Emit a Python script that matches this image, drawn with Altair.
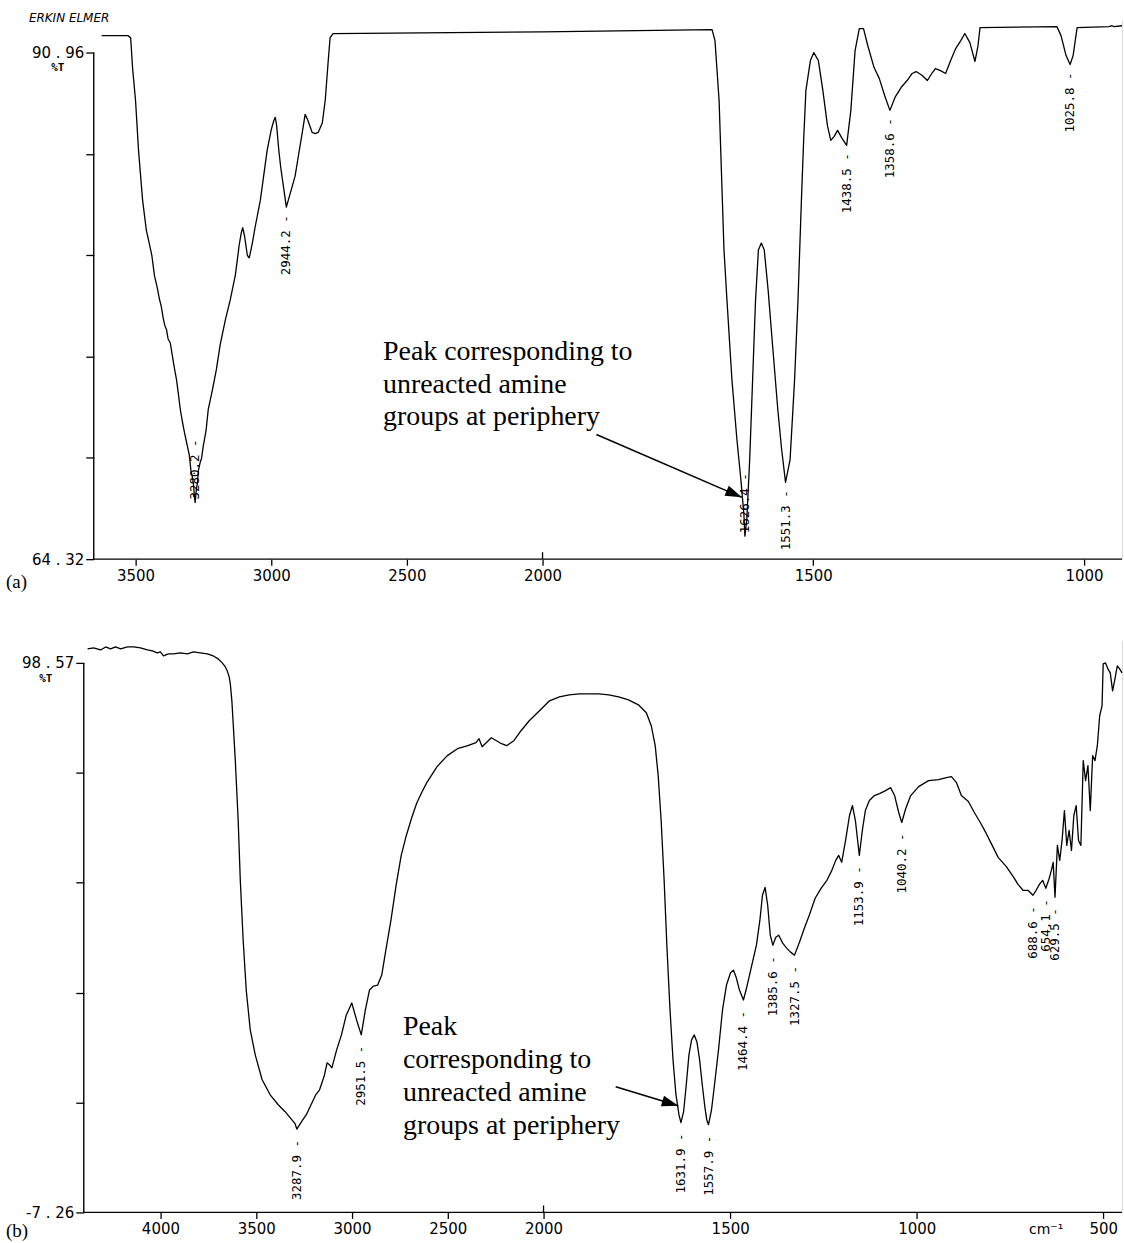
import math
import altair as alt
import pandas as pd

# ---------------- spectrum (a) : wavenumber (cm-1) and %T ----------------
wavenumber_a = [
    3625, 3528, 3518, 3511, 3500, 3489, 3474, 3460, 3452, 3440,
    3430, 3420, 3412, 3405, 3398, 3392, 3386, 3380, 3372, 3364,
    3356, 3349, 3342, 3335, 3328, 3320, 3314, 3308, 3302, 3296,
    3290, 3286, 3283, 3280.2, 3276, 3272, 3268, 3262, 3257, 3250,
    3246, 3240, 3232, 3217, 3202, 3188, 3169, 3151, 3132, 3118,
    3110, 3105, 3098, 3088, 3081, 3070, 3059, 3040, 3015, 3000,
    2990, 2985, 2980, 2972, 2965, 2944.2, 2912, 2897, 2886, 2875,
    2865, 2849, 2838, 2827, 2812, 2801, 2790, 2783, 2772, 2000,
    1687, 1681.6, 1674, 1665, 1659.5, 1650.3, 1641.1, 1633.8, 1628.2, 1626.4,
    1622.8, 1617.5, 1612.1, 1606.7, 1601.4, 1596.0, 1590.6, 1583.5, 1574.6, 1565.6,
    1558.5, 1551.3, 1542.9, 1534.6, 1528.3, 1522.0, 1517.9, 1513.7, 1505.4, 1499.1,
    1490.7, 1482.4, 1474.0, 1467.8, 1461.5, 1455.2, 1446.9, 1438.5, 1430.7, 1422.9,
    1415.1, 1407.3, 1399.5, 1387.8, 1378.1, 1368.3, 1358.6, 1349.2, 1338.0, 1326.8,
    1317.5, 1310.0, 1298.8, 1289.4, 1280.1, 1274.5, 1265.1, 1255.8, 1246.4, 1237.1,
    1227.7, 1220.2, 1210.9, 1201.5, 1195.9, 1192.2, 1050.1, 1042.6, 1033.3, 1025.8,
    1020.3, 1012.9, 954.0, 948.5, 944.8, 930.0,
]
transmittance_a = [
    91.85, 91.85, 91.74, 90.17, 88.44, 85.82, 83.20, 81.60, 81.10, 80.30,
    79.20, 78.60, 78.00, 77.60, 77.00, 76.60, 76.40, 75.90, 75.70, 75.00,
    74.30, 73.76, 73.00, 72.19, 71.60, 71.00, 70.60, 70.20, 69.80, 69.00,
    68.60, 68.20, 67.60, 67.30, 68.00, 68.30, 69.00, 69.40, 69.60, 70.30,
    70.60, 71.10, 72.20, 73.20, 74.30, 75.60, 76.90, 77.95, 79.27, 80.84,
    81.50, 81.75, 81.30, 80.30, 80.16, 80.90, 81.80, 83.20, 85.82, 86.90,
    87.40, 87.55, 87.13, 85.82, 84.93, 82.83, 84.46, 85.77, 86.71, 87.71,
    87.40, 86.76, 86.70, 86.76, 87.24, 88.44, 90.50, 91.74, 91.96, 92.05,
    92.17, 91.59, 88.44, 80.60, 77.95, 73.76, 70.61, 68.51, 66.68, 65.53,
    66.42, 69.56, 73.76, 77.95, 80.58, 80.94, 80.58, 78.48, 75.33, 72.19,
    70.09, 68.36, 69.56, 73.76, 77.95, 83.20, 86.34, 88.97, 90.54, 90.96,
    90.54, 88.97, 87.13, 86.34, 86.55, 86.87, 86.45, 86.08, 87.92, 91.06,
    92.22, 92.22, 91.33, 90.17, 89.59, 88.70, 87.92, 88.60, 89.12, 89.49,
    89.86, 89.96, 89.75, 89.49, 89.91, 90.12, 90.01, 89.86, 90.54, 91.17,
    91.59, 91.96, 91.48, 90.49, 91.33, 92.27, 92.32, 91.85, 90.80, 90.33,
    90.80, 92.27, 92.32, 92.37, 92.32, 92.37,
]
peaks_a = [3280.2, 2944.2, 1626.4, 1551.3, 1438.5, 1358.6, 1025.8]
xticks_a = [3500, 3000, 2500, 2000, 1500, 1000]
ylimits_a = [64.32, 90.96]

# ---------------- spectrum (b) ----------------
wavenumber_b = [
    4380, 4349, 4312, 4286, 4260, 4234, 4208, 4172, 4140, 4104,
    4068, 4042, 4016, 4000, 3984, 3958, 3932, 3896, 3859, 3828,
    3792, 3755, 3724, 3698, 3677, 3661, 3651, 3641, 3635, 3627,
    3620, 3609, 3594, 3583, 3568, 3552, 3531, 3505, 3469, 3427,
    3385, 3349, 3323, 3297, 3287.9, 3263.2, 3238.4, 3213.7, 3189.0, 3169.2,
    3145, 3130, 3118, 3105, 3080, 3055, 3030, 3001, 2976, 2951.5,
    2930.1, 2908.7, 2887.3, 2866.0, 2844.6, 2823.2, 2796.5, 2769.7, 2743.0, 2716.3,
    2689.5, 2662.8, 2636.1, 2609.4, 2555.9, 2502.4, 2449.0, 2395.5, 2352.7, 2336.7,
    2320.7, 2299.3, 2272.6, 2245.8, 2219.1, 2192.4, 2155.0, 2117.5, 2074.8, 2032.0,
    2000.0, 1984.1, 1957.6, 1931.2, 1904.7, 1878.2, 1851.7, 1825.2, 1798.8, 1772.3,
    1745.8, 1724.6, 1711.4, 1700.8, 1692.8, 1684.9, 1676.9, 1669.0, 1661.1, 1653.1,
    1645.2, 1637.2, 1631.9, 1624.7, 1617.6, 1610.4, 1603.3, 1596.1, 1589.0, 1581.8,
    1574.7, 1567.5, 1562.7, 1557.9, 1549.9, 1541.9, 1531.2, 1520.5, 1509.8, 1499.2,
    1491.2, 1483.2, 1475.1, 1464.4, 1457.4, 1448.1, 1438.9, 1429.6, 1420.3, 1413.4,
    1406.4, 1399.4, 1392.5, 1385.6, 1377.7, 1369.8, 1359.2, 1348.6, 1338.1, 1327.5,
    1314.3, 1301.2, 1288.0, 1272.2, 1256.5, 1240.7, 1227.5, 1217.0, 1209.1, 1201.2,
    1190.7, 1180.2, 1172.3, 1164.4, 1153.9, 1145.8, 1137.7, 1126.9, 1113.4, 1099.8,
    1083.6, 1070.1, 1059.3, 1048.3, 1040.2, 1029.5, 1016.2, 994.9, 968.3, 941.6,
    920.3, 907.0, 893.7, 880.4, 861.7, 845.7, 829.8, 813.8, 800.5, 781.9,
    760.5, 741.9, 728.6, 715.2, 701.9, 688.6, 680.0, 671.4, 662.7, 654.1,
    646.7, 639.3, 634.4, 629.5, 623.2, 616.9, 610.6, 604.3, 598.0, 591.7,
    585.4, 579.1, 572.8, 566.5, 560.2, 553.9, 547.6, 541.3, 535.0, 528.7,
    522.4, 516.1, 509.8, 503.5, 500.4, 494.1, 487.8, 481.5, 475.2, 468.9,
    462.6, 456.3, 450.0,
]
transmittance_b = [
    101.26, 101.45, 101.07, 101.64, 101.26, 101.64, 101.26, 101.64, 101.64, 101.45,
    101.07, 100.87, 100.49, 100.68, 99.91, 100.30, 100.30, 100.49, 100.30, 100.68,
    100.49, 100.30, 99.91, 99.34, 98.57, 97.80, 97.03, 95.88, 94.54, 91.27,
    86.85, 79.75, 68.22, 56.70, 45.17, 35.57, 27.89, 23.09, 18.29, 15.39,
    13.48, 12.14, 10.99, 9.83, 8.80, 10.22, 11.56, 13.48, 15.39, 16.36,
    19.00, 21.55, 21.20, 20.59, 24.05, 26.93, 30.73, 33.07, 29.81, 26.93,
    31.73, 35.57, 36.34, 36.53, 38.45, 43.25, 49.02, 55.74, 61.50, 65.34,
    68.61, 71.49, 73.60, 75.52, 78.60, 80.71, 82.05, 82.63, 83.20, 83.97,
    82.43, 83.20, 84.16, 83.59, 83.01, 82.63, 83.59, 85.51, 87.43, 88.97,
    90.12, 91.27, 92.04, 92.42, 92.62, 92.62, 92.62, 92.42, 92.04, 91.46,
    90.50, 88.97, 86.47, 82.63, 76.87, 68.22, 56.70, 43.25, 31.73, 22.13,
    15.41, 11.56, 10.03, 12.14, 17.33, 23.09, 25.97, 26.93, 25.58, 22.13,
    17.33, 12.91, 10.60, 9.64, 12.52, 17.33, 24.05, 31.73, 36.53, 38.84,
    39.41, 37.88, 35.57, 33.65, 35.57, 38.45, 41.33, 44.21, 49.02, 53.82,
    55.35, 51.90, 46.13, 44.21, 45.75, 46.13, 44.60, 43.64, 42.87, 42.29,
    44.79, 47.48, 49.98, 53.24, 55.16, 56.70, 58.62, 60.54, 61.50, 60.16,
    64.38, 69.18, 71.10, 68.22, 61.50, 66.30, 70.14, 72.06, 73.02, 73.41,
    73.98, 74.56, 73.02, 69.76, 67.84, 70.53, 73.02, 74.75, 75.91, 76.10,
    76.48, 76.67, 75.52, 73.02, 71.87, 69.76, 67.84, 65.73, 63.81, 61.12,
    59.39, 57.47, 55.93, 54.78, 54.78, 53.82, 54.78, 55.93, 56.70, 55.16,
    56.70, 58.62, 60.16, 53.43, 63.42, 60.54, 64.38, 70.14, 63.42, 66.30,
    62.46, 69.18, 71.10, 64.38, 63.42, 79.75, 75.91, 78.79, 70.14, 80.71,
    79.75, 82.63, 88.39, 90.31, 98.38, 98.57, 97.42, 96.65, 93.19, 95.50,
    97.99, 97.42, 96.65,
]
peaks_b = [3287.9, 2951.5, 1631.9, 1557.9, 1464.4, 1385.6, 1327.5,
           1153.9, 1040.2, 688.6, 654.1, 629.5]
xticks_b = [4000, 3500, 3000, 2500, 2000, 1500, 1000, 500]
ylimits_b = [-7.26, 98.57]

# annotation text and arrow anchors (wavenumber, %T)
note_a = ["Peak corresponding to", "unreacted amine", "groups at periphery"]
note_b = ["Peak", "corresponding to", "unreacted amine", "groups at periphery"]
note_pos_a = (2588, 74.81)
note_pos_b = (2734, 26.93)
arrow_a = ((1900.6, 70.87), (1632.0, 67.57))
arrow_b = ((1806.7, 16.94), (1639.0, 13.29))

MONO = "DejaVu Sans Mono"
SANS = "DejaVu Sans"
SERIF = "Liberation Serif"
ARROW_HEAD = "M0,0 L-1,-0.33 L-1,0.33 Z"

# Panel geometry. Both plot areas start at the same x; panel (a) starts its
# axes "inset" pixels further right. The x axis is expanded two-fold below
# 2000 cm-1.
GEO_A = dict(width=1041, height=540, left=83, top=18, bottom=620, inset=10,
             xdom=[3654, 2000, 930], xrng=[10, 460, 1041], ytop=92.64, gap=8)
GEO_B = dict(width=1041, height=573, left=83, top=0, bottom=603, inset=0,
             xdom=[4400, 2000, 450], xrng=[0, 461, 1041], ytop=102.8, gap=11)


def piecewise(v, dom, rng):
    for i in range(len(dom) - 1):
        a, b = dom[i], dom[i + 1]
        if min(a, b) <= v <= max(a, b):
            return rng[i] + (v - a) / (b - a) * (rng[i + 1] - rng[i])
    i = 0 if abs(v - dom[0]) < abs(v - dom[-1]) else len(dom) - 2
    a, b = dom[i], dom[i + 1]
    return rng[i] + (v - a) / (b - a) * (rng[i + 1] - rng[i])


def text_layer(txt, x, y, font, size, weight="normal", style="normal", align="left"):
    return alt.Chart(pd.DataFrame({"k": [0]})).mark_text(
        text=txt, font=font, fontSize=size, fontWeight=weight, fontStyle=style,
        align=align, baseline="middle", color="black",
    ).encode(x=alt.value(x), y=alt.value(y))


def build_panel(wn, tr, peaks, xticks, ylim, geo, note, note_pos, arrow, extras):
    w, h = geo["width"], geo["height"]
    lo, hi = ylim
    ytop = geo["ytop"]
    inset = geo["inset"]
    xs = alt.Scale(domain=geo["xdom"], range=geo["xrng"], nice=False, zero=False)
    ys = alt.Scale(domain=[lo, ytop], nice=False, zero=False)
    yticks = [round(lo + (hi - lo) * k / 5, 4) for k in range(6)]
    ends = f"abs(datum.value - ({hi})) < 1e-6 || abs(datum.value - ({lo})) < 1e-6"

    X = alt.X("wn:Q", scale=xs, title=None, axis=alt.Axis(
        values=xticks, format="d", labelFont=SANS, labelFontSize=15,
        labelColor="black", labelPadding=3, tickSize=6, tickWidth=1.3,
        tickColor="black", domain=False, grid=False, zindex=2,
        labelFlush=False, labelOverlap=False))
    Y = alt.Y("T:Q", scale=ys, title=None, axis=alt.Axis(
        values=yticks, labelExpr=f"{ends} ? replace(toString(datum.value), '.', ' . ') : ''",
        labelFont=SANS, labelFontSize=15, labelColor="black", labelPadding=2,
        tickSize=8, tickWidth=1.3, tickColor="black", domain=False, grid=False,
        offset=-inset, zindex=2, labelFlush=False, labelOverlap=False))

    def px(v):
        return piecewise(v, geo["xdom"], geo["xrng"])

    def py(t):
        return h * (ytop - t) / (ytop - lo)

    layers = []
    # white frame that fixes the panel's outer extent
    layers.append(alt.Chart(pd.DataFrame({"k": [0]})).mark_rect(color="white").encode(
        x=alt.value(-geo["left"]), x2=alt.value(w),
        y=alt.value(-geo["top"]), y2=alt.value(geo["bottom"])))
    # axis lines: vertical from the lowest to the highest labelled value,
    # horizontal along the bottom from the vertical axis to the right edge
    layers.append(alt.Chart(pd.DataFrame({"T": [lo], "T2": [hi]})).mark_rule(
        color="black", strokeWidth=1.4).encode(x=alt.value(inset), y=Y, y2="T2:Q"))
    layers.append(alt.Chart(pd.DataFrame({"k": [0]})).mark_rule(
        color="black", strokeWidth=1.4).encode(
        x=alt.value(inset), x2=alt.value(w), y=alt.value(h)))
    # the 2000 cm-1 tick crosses the axis
    layers.append(alt.Chart(pd.DataFrame({"wn": [2000]})).mark_rule(
        color="black", strokeWidth=1.3).encode(x=X, y=alt.value(h), y2=alt.value(h - 7)))
    # spectrum
    layers.append(alt.Chart(pd.DataFrame({"wn": wn, "T": tr})).mark_line(
        color="black", strokeWidth=1.3, strokeJoin="round").encode(x=X, y=Y))

    # peak labels: written downward from the band minimum, or upward when
    # the minimum sits too close to the bottom axis
    depth = dict(zip(wn, tr))
    below, above = [], []
    for p in peaks:
        t = depth[p]
        row = {"wn": p, "T": t, "label": f"{p:.1f} -"}
        (above if h - py(t) < 70 else below).append(row)
    if below:
        layers.append(alt.Chart(pd.DataFrame(below)).mark_text(
            angle=270, align="right", baseline="middle", font=MONO, fontSize=12.5,
            yOffset=geo["gap"], color="black").encode(x=X, y=Y, text="label:N"))
    if above:
        layers.append(alt.Chart(pd.DataFrame(above)).mark_text(
            angle=270, align="left", baseline="middle", font=MONO, fontSize=12.5,
            yOffset=-3, color="black").encode(x=X, y=Y, text="label:N"))

    # annotation with arrow
    layers.append(alt.Chart(pd.DataFrame({"wn": [note_pos[0]], "T": [note_pos[1]]})).mark_text(
        align="left", baseline="alphabetic", font=SERIF, fontSize=28, lineHeight=33,
        color="black").encode(x=X, y=Y, text=alt.value(note)))
    (tw, tt), (hw, ht) = arrow
    ang = math.degrees(math.atan2(py(ht) - py(tt), px(hw) - px(tw))) % 360
    layers.append(alt.Chart(pd.DataFrame({"wn": [tw], "T": [tt], "wn2": [hw], "T2": [ht]})).mark_rule(
        color="black", strokeWidth=1.6).encode(x=X, y=Y, x2="wn2:Q", y2="T2:Q"))
    layers.append(alt.Chart(pd.DataFrame({"wn": [hw], "T": [ht]})).mark_point(
        shape=ARROW_HEAD, size=1100, filled=True, color="black", opacity=1,
        strokeWidth=0, angle=ang).encode(x=X, y=Y))

    layers.extend(extras)
    return alt.layer(*layers).properties(width=w, height=h)


top = build_panel(
    wavenumber_a, transmittance_a, peaks_a, xticks_a, ylimits_a, GEO_A,
    note_a, note_pos_a, arrow_a,
    [
        text_layer("ERKIN ELMER", -55, -3, SANS, 12, style="italic"),
        text_layer("%T", -26, 48, MONO, 11, weight="bold", align="center"),
        text_layer("(a)", -78, 563, SERIF, 19),
    ],
)

bottom = build_panel(
    wavenumber_b, transmittance_b, peaks_b, xticks_b, ylimits_b, GEO_B,
    note_b, note_pos_b, arrow_b,
    [
        text_layer("%T", -38, 38, MONO, 11, weight="bold", align="center"),
        text_layer("(b)", -78, 592, SERIF, 19),
        text_layer("cm\u207b\u00b9", 965, 591, SANS, 14, align="center"),
    ],
)

chart = alt.concat(
    top, bottom, columns=1, spacing=0, bounds="full"
).properties(padding=0).configure_view(stroke=None).configure(background="white")

chart.save("out.html", embed_options={"renderer": "svg", "actions": False})
